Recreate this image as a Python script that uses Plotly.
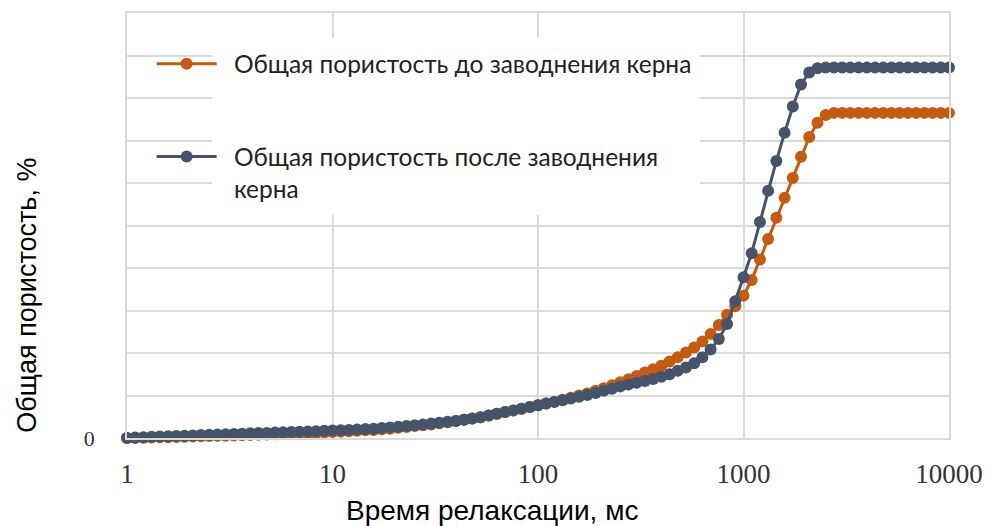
import plotly.graph_objects as go

relax_time = [
    1, 1.096, 1.202, 1.318, 1.445, 1.585, 1.738, 1.905, 2.089, 2.291, 2.512, 2.754, 3.020, 3.311, 3.631, 3.981, 4.365, 4.786, 5.248, 5.754, 6.310, 6.918, 7.586, 8.318, 9.120,
    10, 10.96, 12.02, 13.18, 14.45, 15.85, 17.38, 19.05, 20.89, 22.91, 25.12, 27.54, 30.20, 33.11, 36.31, 39.81, 43.65, 47.86, 52.48, 57.54, 63.10, 69.18, 75.86, 83.18, 91.20,
    100, 109.6, 120.2, 131.8, 144.5, 158.5, 173.8, 190.5, 208.9, 229.1, 251.2, 275.4, 302.0, 331.1, 363.1, 398.1, 436.5, 478.6, 524.8, 575.4, 631.0, 691.8, 758.6, 831.8, 912.0,
    1000, 1096, 1202, 1318, 1445, 1585, 1738, 1905, 2089, 2291, 2512, 2754, 3020, 3311, 3631, 3981, 4365, 4786, 5248, 5754, 6310, 6918, 7586, 8318, 9120, 10000,
]

porosity_before = [
    0.00, 0.00, 0.005, 0.01, 0.015, 0.02, 0.025, 0.03, 0.035, 0.04, 0.045, 0.05, 0.055, 0.06, 0.065, 0.07, 0.075, 0.08, 0.09, 0.095, 0.10, 0.11, 0.115, 0.12, 0.13,
    0.14, 0.15, 0.16, 0.17, 0.18, 0.19, 0.205, 0.22, 0.24, 0.26, 0.28, 0.30, 0.32, 0.345, 0.37, 0.40, 0.43, 0.46, 0.49, 0.53, 0.57, 0.61, 0.65, 0.69, 0.73,
    0.77, 0.81, 0.85, 0.90, 0.95, 1.00, 1.05, 1.11, 1.17, 1.24, 1.31, 1.38, 1.46, 1.54, 1.62, 1.70, 1.80, 1.90, 2.01, 2.13, 2.27, 2.45, 2.66, 2.90, 3.10,
    3.35, 3.72, 4.20, 4.68, 5.18, 5.65, 6.12, 6.62, 7.08, 7.42, 7.60,
    7.65, 7.65, 7.65, 7.65, 7.65, 7.65, 7.65, 7.65, 7.65, 7.65, 7.65, 7.65, 7.65, 7.65, 7.65,
]

porosity_after = [
    0.00, 0.01, 0.02, 0.03, 0.035, 0.04, 0.05, 0.055, 0.06, 0.07, 0.075, 0.08, 0.09, 0.095, 0.10, 0.11, 0.115, 0.12, 0.13, 0.135, 0.14, 0.15, 0.155, 0.16, 0.17,
    0.175, 0.18, 0.19, 0.20, 0.21, 0.22, 0.235, 0.25, 0.265, 0.28, 0.30, 0.32, 0.34, 0.36, 0.38, 0.40, 0.43, 0.46, 0.49, 0.53, 0.57, 0.61, 0.65, 0.69, 0.73,
    0.77, 0.81, 0.85, 0.89, 0.93, 0.97, 1.01, 1.06, 1.11, 1.16, 1.21, 1.26, 1.30, 1.34, 1.39, 1.44, 1.50, 1.58, 1.66, 1.76, 1.90, 2.08, 2.33, 2.68, 3.22,
    3.78, 4.35, 5.08, 5.82, 6.52, 7.18, 7.80, 8.32, 8.60, 8.70,
    8.72, 8.72, 8.72, 8.72, 8.72, 8.72, 8.72, 8.72, 8.72, 8.72, 8.72, 8.72, 8.72, 8.72, 8.72, 8.72,
]

SP = "\u2002"
series_names = [
    SP + "Общая пористость до заводнения керна",
    SP + "Общая пористость после заводнения<br>" + SP + "керна",
]
x_tick_vals = [1, 10, 100, 1000, 10000]
x_tick_text = ["1", "10", "100", "1000", "10000"]
y_tick_vals = [0, 1, 2, 3, 4, 5, 6, 7, 8, 9, 10]
y_tick_text = ["0", "", "", "", "", "", "", "", "", "", ""]

ORANGE = "#C55A11"
BLUE = "#44546A"
GRID = "#D9D9D9"

fig = go.Figure()
fig.add_trace(go.Scatter(
    x=relax_time, y=porosity_before, name=series_names[0], mode="lines+markers",
    line=dict(color=ORANGE, width=3), marker=dict(color=ORANGE, size=12),
    cliponaxis=False, legendgroup="a",
))
fig.add_trace(go.Scatter(
    x=relax_time, y=porosity_after, name=series_names[1], mode="lines+markers",
    line=dict(color=BLUE, width=3), marker=dict(color=BLUE, size=12),
    cliponaxis=False, legendgroup="b",
))

# white backing behind the legend text (hides gridlines there, like the reference)
fig.add_shape(type="rect", xref="x", yref="y",
              x0=2.59, x1=614, y0=5.25, y1=9.41,
              fillcolor="white", line=dict(width=0), layer="between")

fig.add_annotation(text="Время релаксации, мс", xref="paper", yref="paper",
                   x=(492 - 127) / 822, y=(438.5 - 511) / 425.5, showarrow=False,
                   xanchor="center", yanchor="middle",
                   font=dict(family="Liberation Sans, Arial", size=28, color="#000"))
fig.add_annotation(text="Общая пористость, %", xref="paper", yref="paper",
                   x=(27 - 127) / 822, y=(438.5 - 296) / 425.5, showarrow=False, textangle=-90,
                   xanchor="center", yanchor="middle",
                   font=dict(family="Liberation Sans, Arial", size=27, color="#000"))

fig.update_layout(
    width=983, height=518,
    margin=dict(l=119, r=42, t=5, b=87.5),
    paper_bgcolor="white", plot_bgcolor="white",
    showlegend=True,
    legend=dict(x=0.03, y=0.9335, xanchor="left", yanchor="top",
                bgcolor="rgba(0,0,0,0)", font=dict(family="Lato", size=24.5, color="#222"),
                tracegroupgap=58, itemwidth=60, valign="top"),
    xaxis=dict(type="log", range=[0, 4], tickvals=x_tick_vals, ticktext=x_tick_text,
               showgrid=True, gridcolor=GRID, gridwidth=1.5, zeroline=False,
               showline=True, linecolor=GRID, linewidth=1.5, mirror=True,
               ticks="", automargin=False, ticklabelstandoff=11,
               tickfont=dict(family="Liberation Serif, Times New Roman", size=27, color="#333")),
    yaxis=dict(range=[0, 10], tickvals=y_tick_vals, ticktext=y_tick_text,
               showgrid=True, gridcolor=GRID, gridwidth=1.5, zeroline=False,
               showline=True, linecolor=GRID, linewidth=1.5, mirror=True,
               ticks="", automargin=False, ticklabelstandoff=26,
               tickfont=dict(family="Liberation Serif, Times New Roman", size=22, color="#333")),
)

fig.write_html("out.html")
